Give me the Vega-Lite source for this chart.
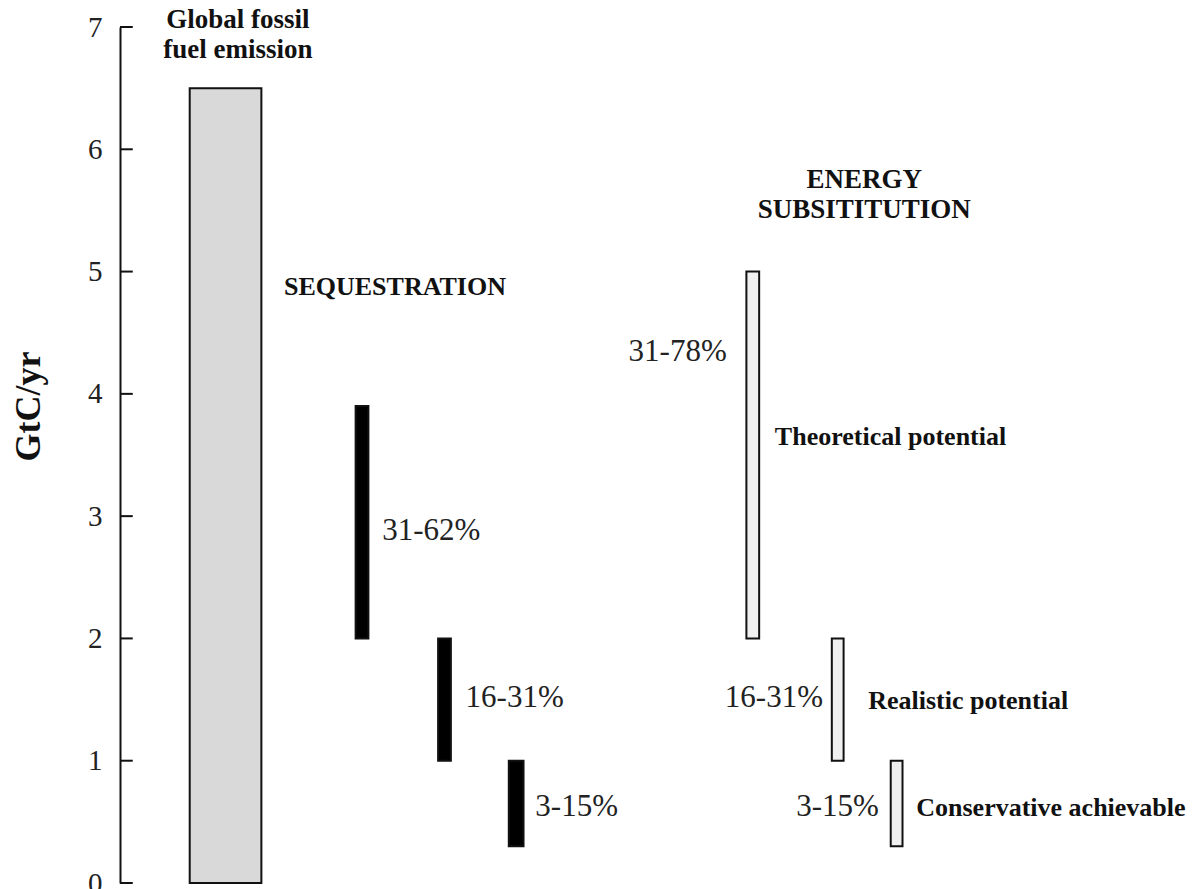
{
  "$schema": "https://vega.github.io/schema/vega-lite/v6.json",
  "width": 1080,
  "height": 856,
  "autosize": {"type": "none"},
  "padding": {"left": 120, "top": 27, "right": 0, "bottom": 6},
  "background": "white",
  "config": {"view": {"stroke": null}, "font": "Liberation Serif"},
  "datasets": {
    "bars": [
      {"name": "Global fossil fuel emission", "group": "emission", "x0": 71, "x1": 144, "y0": 0, "y1": 6.5},
      {"name": "Sequestration theoretical", "group": "sequestration", "x0": 240, "x1": 253, "y0": 2, "y1": 3.9},
      {"name": "Sequestration realistic", "group": "sequestration", "x0": 324, "x1": 337, "y0": 1, "y1": 2},
      {"name": "Sequestration conservative", "group": "sequestration", "x0": 396, "x1": 411, "y0": 0.3, "y1": 1},
      {"name": "Energy theoretical", "group": "energy", "x0": 638, "x1": 651, "y0": 2, "y1": 5},
      {"name": "Energy realistic", "group": "energy", "x0": 725, "x1": 737, "y0": 1, "y1": 2},
      {"name": "Energy conservative", "group": "energy", "x0": 785, "x1": 797, "y0": 0.3, "y1": 1}
    ],
    "ticks": [
      {"v": 0, "t0": 0, "t1": 13}, {"v": 1, "t0": 0, "t1": 13}, {"v": 2, "t0": 0, "t1": 13}, {"v": 3, "t0": 0, "t1": 13},
      {"v": 4, "t0": 0, "t1": 13}, {"v": 5, "t0": 0, "t1": 13}, {"v": 6, "t0": 0, "t1": 13}, {"v": 7, "t0": 0, "t1": 13}
    ],
    "headings": [
      {"text": "Global fossil", "x": 120, "y": 7.06},
      {"text": "fuel emission", "x": 120, "y": 6.81},
      {"text": "ENERGY", "x": 758, "y": 5.75},
      {"text": "SUBSITITUTION", "x": 758, "y": 5.5}
    ],
    "boldLeft": [
      {"text": "SEQUESTRATION", "x": 167, "y": 4.87},
      {"text": "Theoretical potential", "x": 667, "y": 3.65},
      {"text": "Realistic potential", "x": 762, "y": 1.49},
      {"text": "Conservative achievable", "x": 811, "y": 0.61}
    ],
    "pctLeft": [
      {"text": "31-62%", "x": 267, "y": 2.88},
      {"text": "16-31%", "x": 352, "y": 1.51},
      {"text": "3-15%", "x": 423, "y": 0.62}
    ],
    "pctRight": [
      {"text": "31-78%", "x": 618, "y": 4.34},
      {"text": "16-31%", "x": 716, "y": 1.51},
      {"text": "3-15%", "x": 773, "y": 0.62}
    ]
  },
  "layer": [
    {
      "data": {"name": "bars"},
      "mark": {"type": "rect", "stroke": "#111111", "strokeWidth": 2},
      "encoding": {
        "x": {"field": "x0", "type": "quantitative", "scale": {"domain": [0, 1080]}, "axis": null},
        "x2": {"field": "x1"},
        "y": {"field": "y0", "type": "quantitative", "scale": {"domain": [0, 7]},
          "axis": {"title": "GtC/yr", "values": [0, 1, 2, 3, 4, 5, 6, 7], "format": "d", "grid": false,
            "domainColor": "#111111", "domainWidth": 2, "ticks": false,
            "labelPadding": 18, "labelFontSize": 29, "labelColor": "#222222",
            "labelFont": "Liberation Serif", "titleFont": "Liberation Serif", "titleFontSize": 36,
            "titleFontWeight": "bold", "titleColor": "#111111",
            "titleX": -92, "titleY": 379, "titleAlign": "center", "titleBaseline": "middle", "titleAngle": -90}},
        "y2": {"field": "y1"},
        "fill": {"field": "group", "type": "nominal", "legend": null,
          "scale": {"domain": ["emission", "sequestration", "energy"], "range": ["#d9d9d9", "#000000", "#f0f0f0"]}}
      }
    },
    {
      "data": {"name": "ticks"},
      "mark": {"type": "rule", "color": "#111111", "strokeWidth": 2},
      "encoding": {
        "x": {"field": "t0", "type": "quantitative"},
        "x2": {"field": "t1"},
        "y": {"field": "v", "type": "quantitative"}
      }
    },
    {
      "data": {"name": "headings"},
      "mark": {"type": "text", "align": "center", "baseline": "middle", "font": "Liberation Serif", "fontWeight": "bold", "fontSize": 27, "color": "#111111"},
      "encoding": {
        "x": {"field": "x", "type": "quantitative"},
        "y": {"field": "y", "type": "quantitative"},
        "text": {"field": "text"}
      }
    },
    {
      "data": {"name": "boldLeft"},
      "mark": {"type": "text", "align": "left", "baseline": "middle", "font": "Liberation Serif", "fontWeight": "bold", "fontSize": 26, "color": "#111111"},
      "encoding": {
        "x": {"field": "x", "type": "quantitative"},
        "y": {"field": "y", "type": "quantitative"},
        "text": {"field": "text"}
      }
    },
    {
      "data": {"name": "pctLeft"},
      "mark": {"type": "text", "align": "left", "baseline": "middle", "font": "Liberation Serif", "fontSize": 31, "color": "#222222"},
      "encoding": {
        "x": {"field": "x", "type": "quantitative"},
        "y": {"field": "y", "type": "quantitative"},
        "text": {"field": "text"}
      }
    },
    {
      "data": {"name": "pctRight"},
      "mark": {"type": "text", "align": "right", "baseline": "middle", "font": "Liberation Serif", "fontSize": 31, "color": "#222222"},
      "encoding": {
        "x": {"field": "x", "type": "quantitative"},
        "y": {"field": "y", "type": "quantitative"},
        "text": {"field": "text"}
      }
    }
  ]
}
